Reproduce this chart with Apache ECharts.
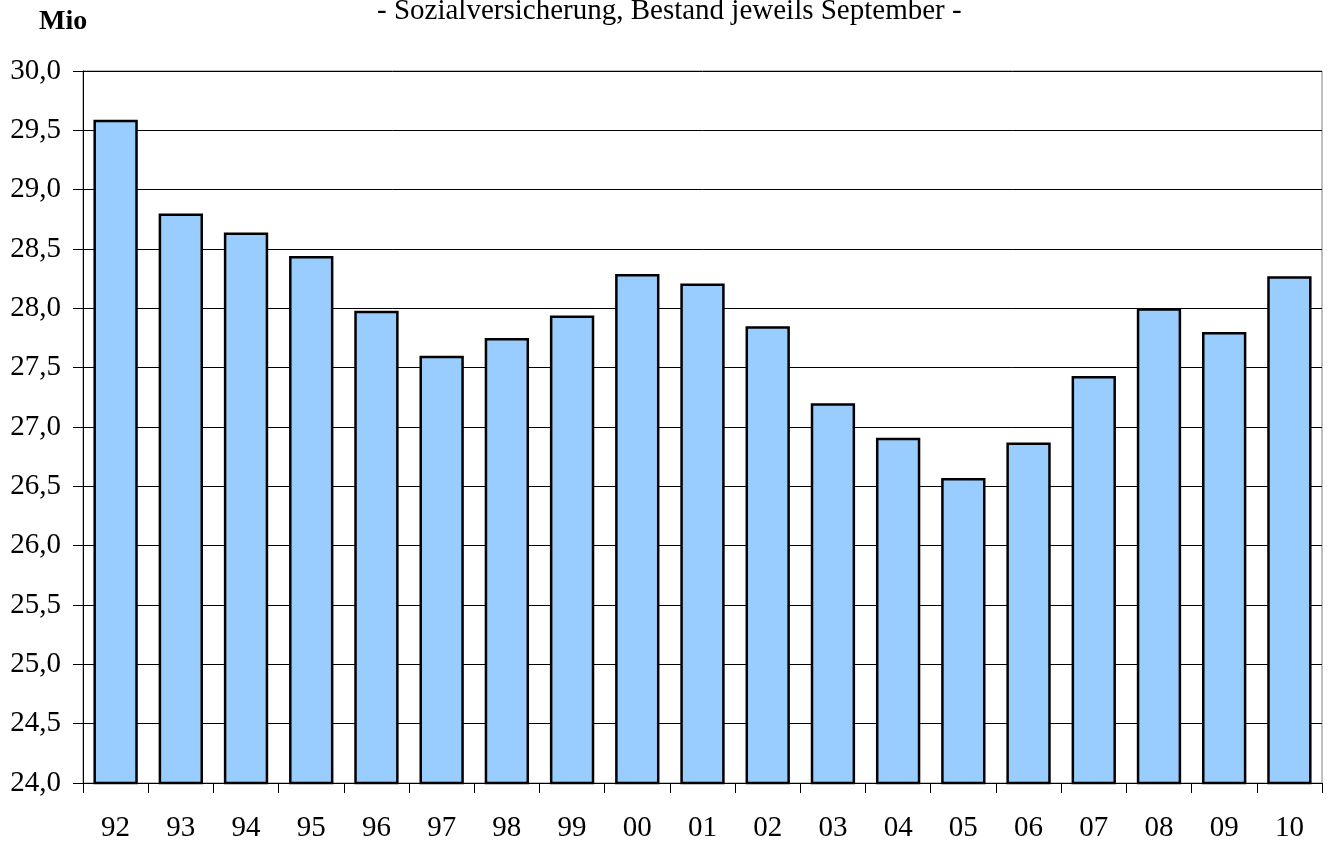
<!DOCTYPE html>
<html>
<head>
<meta charset="utf-8">
<script src="https://cdn.jsdelivr.net/npm/echarts@6/dist/echarts.min.js"></script>
<style>
  html, body { margin: 0; padding: 0; background: #fff; }
  #chart { width: 1329px; height: 843px; }
</style>
</head>
<body>
<div id="chart"></div>
<script>
// Jahre (Bestand jeweils September)
const years = ["92", "93", "94", "95", "96", "97", "98", "99", "00", "01",
  "02", "03", "04", "05", "06", "07", "08", "09", "10"];
// Beschäftigte in Mio
const values = [29.59, 28.80, 28.64, 28.44, 27.98, 27.60, 27.75, 27.94, 28.29, 28.21,
  27.85, 27.20, 26.91, 26.57, 26.87, 27.43, 28.00, 27.80, 28.27];

const serif = "Liberation Serif, Times New Roman, serif";

const chart = echarts.init(document.getElementById("chart"));
chart.setOption({
  backgroundColor: "#fff",
  animation: false,
  title: [
    {
      text: "- Sozialversicherung, Bestand jeweils September -",
      left: 372,
      top: -8,
      textStyle: { fontFamily: serif, fontSize: 29, fontWeight: "normal", color: "#000" },
    },
    {
      text: "Mio",
      left: 34,
      top: 3,
      textStyle: { fontFamily: serif, fontSize: 28, fontWeight: "bold", color: "#000" },
    },
  ],
  grid: {
    left: 83,
    right: 7,
    top: 71,
    bottom: 60,
    show: true,
    borderColor: "#808080",
    borderWidth: 1,
  },
  xAxis: {
    type: "category",
    data: years,
    axisLine: { lineStyle: { color: "#000", width: 1 } },
    axisTick: { show: true, length: 10, lineStyle: { color: "#000" } },
    axisLabel: { fontFamily: serif, fontSize: 29, color: "#000", margin: 31 },
  },
  yAxis: {
    type: "value",
    min: 24,
    max: 30,
    interval: 0.5,
    axisLine: { show: true, lineStyle: { color: "#000", width: 1 } },
    axisTick: { show: true, length: 10, lineStyle: { color: "#000" } },
    splitLine: { show: true, lineStyle: { color: "#000", width: 1 } },
    axisLabel: {
      fontFamily: serif,
      fontSize: 29,
      color: "#000",
      margin: 22,
      formatter: (v) => v.toFixed(1).replace(".", ","),
    },
  },
  series: [
    {
      type: "bar",
      data: values,
      barWidth: "68%",
      itemStyle: { color: "#99CCFF", borderColor: "#000", borderWidth: 2.5 },
    },
  ],
});
</script>
</body>
</html>
